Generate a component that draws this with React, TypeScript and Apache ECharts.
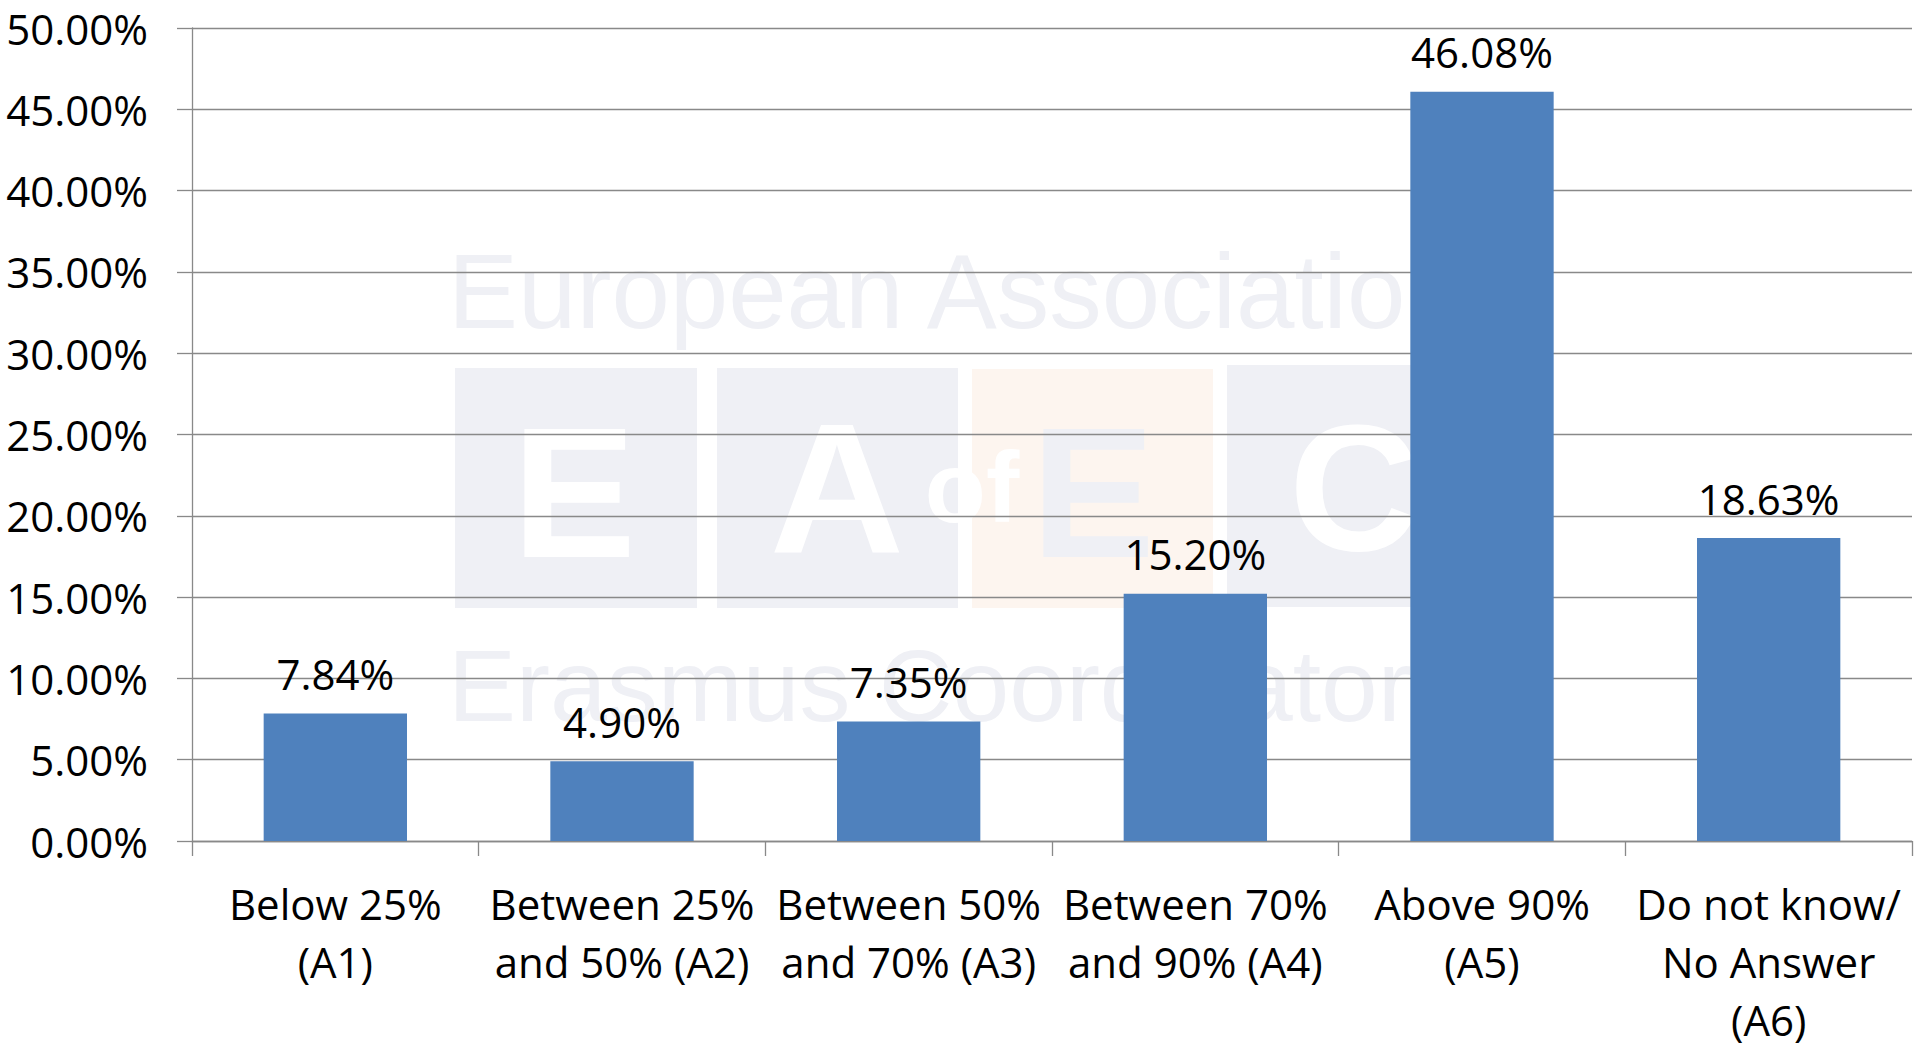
import React, { useEffect, useRef } from "react";
import * as echarts from "echarts";

const categories = [
  "Below 25%\n(A1)",
  "Between 25%\nand 50% (A2)",
  "Between 50%\nand 70% (A3)",
  "Between 70%\nand 90% (A4)",
  "Above 90%\n(A5)",
  "Do not know/\nNo Answer\n(A6)",
];
const values = [7.84, 4.9, 7.35, 15.2, 46.08, 18.63];
const yMin = 0;
const yMax = 50;
const yStep = 5;

const FONT = '"Open Sans", "Noto Sans", sans-serif';
const WM_FONT = '"Liberation Sans", Arial, sans-serif';
const GRID_COLOR = "#898989";
const WM_GRAY = "#eff0f5";
const WM_ORANGE = "#fdf5ef";

function watermark(): any[] {
  const z = -10;
  const rect = (x: number, y: number, w: number, h: number, fill: string) => ({
    type: "rect",
    z,
    silent: true,
    shape: { x, y, width: w, height: h },
    style: { fill },
  });
  const txt = (
    text: string,
    x: number,
    y: number,
    size: number,
    weight: string,
    fill: string,
    align: string
  ) => ({
    type: "text",
    z: z + 1,
    silent: true,
    x,
    y,
    style: {
      text,
      fill,
      fontSize: size,
      fontFamily: WM_FONT,
      fontWeight: weight,
      align,
      textAlign: align,
      verticalAlign: "middle",
      textVerticalAlign: "middle",
    },
  });
  return [
    rect(455, 368, 242, 240, WM_GRAY),
    rect(717, 368, 241, 240, WM_GRAY),
    rect(972, 369, 241, 239, WM_ORANGE),
    rect(1227, 365, 185, 242, WM_GRAY),
    txt("European Associatio", 448, 291, 105, "normal", WM_GRAY, "left"),
    txt("Erasmus Coordinator", 448, 686, 102, "normal", WM_GRAY, "left"),
    txt("E", 574, 492, 186, "bold", "#ffffff", "center"),
    txt("A", 837, 488, 186, "bold", "#ffffff", "center"),
    txt("of", 972, 487, 100, "bold", "#ffffff", "center"),
    txt("E", 1093, 492, 186, "bold", WM_GRAY, "center"),
    txt("C", 1354, 487, 180, "bold", "#ffffff", "center"),
  ];
}

export default function App() {
  const ref = useRef<HTMLDivElement>(null);
  useEffect(() => {
    document.body.style.margin = "0";
    if (!ref.current) return;
    const chart = echarts.init(ref.current, null, { renderer: "svg" });
    chart.setOption({
      animation: false,
      backgroundColor: "#ffffff",
      graphic: watermark(),
      grid: { left: 192, top: 28, right: 3, bottom: 197, containLabel: false },
      xAxis: {
        type: "category",
        data: categories,
        boundaryGap: true,
        axisLine: { show: true, lineStyle: { color: GRID_COLOR, width: 1.3 } },
        axisTick: {
          show: true,
          alignWithLabel: false,
          length: 15,
          lineStyle: { color: GRID_COLOR, width: 1.3 },
        },
        axisLabel: {
          interval: 0,
          margin: 33,
          color: "#000000",
          fontFamily: FONT,
          fontSize: 42,
          lineHeight: 58,
        },
      },
      yAxis: {
        type: "value",
        min: yMin,
        max: yMax,
        interval: yStep,
        axisLine: { show: true, lineStyle: { color: GRID_COLOR, width: 1.3 } },
        axisTick: { show: true, length: 15, lineStyle: { color: GRID_COLOR, width: 1.3 } },
        splitLine: { show: true, lineStyle: { color: GRID_COLOR, width: 1.3 } },
        axisLabel: {
          margin: 44,
          color: "#000000",
          fontFamily: FONT,
          fontSize: 42,
          formatter: (v: number) => v.toFixed(2) + "%",
        },
      },
      series: [
        {
          type: "bar",
          data: values,
          barWidth: "50%",
          itemStyle: { color: "#4f81bd" },
          label: {
            show: true,
            position: "top",
            distance: 19,
            color: "#000000",
            fontFamily: FONT,
            fontSize: 42,
            formatter: (p: any) => Number(p.value).toFixed(2) + "%",
          },
        },
      ],
    });
    return () => chart.dispose();
  }, []);
  return (
    <div
      ref={ref}
      style={{ position: "fixed", left: 0, top: 0, width: 1915, height: 1048 }}
    />
  );
}
